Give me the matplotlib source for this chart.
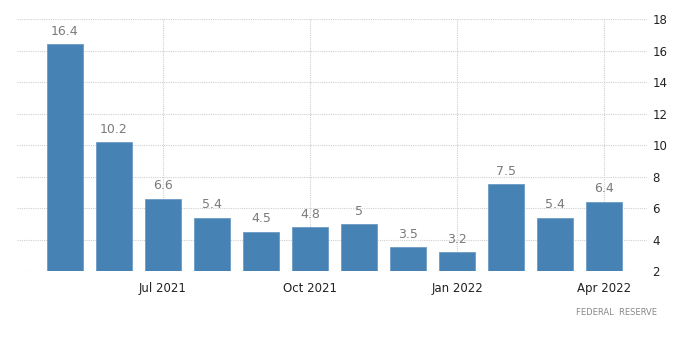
import numpy as np
import matplotlib.pyplot as plt

months = ["May 2021", "Jun 2021", "Jul 2021", "Aug 2021", "Sep 2021", "Oct 2021",
          "Nov 2021", "Dec 2021", "Jan 2022", "Feb 2022", "Mar 2022", "Apr 2022"]
values = [16.4, 10.2, 6.6, 5.4, 4.5, 4.8, 5, 3.5, 3.2, 7.5, 5.4, 6.4]
tick_labels = ["Jul 2021", "Oct 2021", "Jan 2022", "Apr 2022"]
y_ticks = [2, 4, 6, 8, 10, 12, 14, 16, 18]

fig = plt.figure(figsize=(7, 3.6), dpi=100)
ax = fig.add_axes([0.024, 0.247, 0.9, 0.70])

x = np.arange(len(months))
base = 2
ax.bar(x, np.array(values) - base, bottom=base, width=0.73,
       color="#4682b4", edgecolor="#6d9cc6", linewidth=0.6, zorder=3)

# value labels above the bars
for xi, v in zip(x, values):
    ax.text(xi, v + 0.4, f"{v:g}", ha="center", va="bottom",
            fontsize=9, color="#7a7a7a")

ax.set_xlim(-0.98, 11.87)
ax.set_ylim(2, 18)
ax.set_xticks([months.index(m) for m in tick_labels])
ax.set_xticklabels(tick_labels)
ax.set_yticks(y_ticks)
ax.yaxis.tick_right()

ax.grid(True, color="#d0d0d0", linestyle=(0, (1, 1)), linewidth=0.8, zorder=0)
for s in ax.spines.values():
    s.set_visible(False)
ax.tick_params(axis="both", length=0, labelsize=8.5, colors="#222222")
ax.tick_params(axis="x", pad=8)
ax.tick_params(axis="y", pad=4)

fig.text(0.938, 0.132, "FEDERAL  RESERVE", ha="right", va="center",
         fontsize=6, color="#888888")

fig.savefig("out.png", dpi=100)
